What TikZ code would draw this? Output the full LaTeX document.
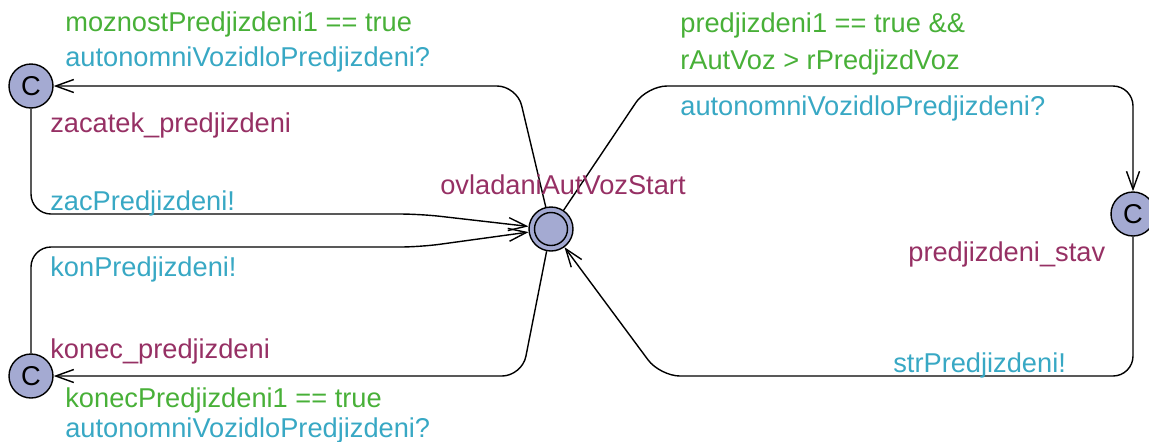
\documentclass[tikz,border=0pt]{standalone}
\usepackage{fontspec}
\setmainfont{Liberation Sans}
\usetikzlibrary{arrows.meta}
\definecolor{guardcol}{RGB}{72,176,56}
\definecolor{synccol}{RGB}{56,168,196}
\definecolor{namecol}{RGB}{150,48,100}
\definecolor{locfill}{RGB}{164,170,210}

\begin{document}
\begin{tikzpicture}[x=0.02cm,y=-0.02cm,
    every node/.style={font=\fontsize{15.5}{18}\selectfont},
    loc/.style={circle,draw,line width=0.8pt,fill=locfill,minimum size=0.88cm,inner sep=0pt},
    trans/.style={line width=0.8pt,rounded corners=0.4cm,-{Straight Barb[length=0.36cm,width=0.26cm]}},
    guard/.style={anchor=base west,inner sep=0pt,text=guardcol},
    sync/.style={anchor=base west,inner sep=0pt,text=synccol},
    locname/.style={anchor=base west,inner sep=0pt,text=namecol}]
  \useasboundingbox (0,0) rectangle (1149,441);

  % locations
  \node[loc] (zacatek) at (31,86) {C};
  \node[loc] (konec) at (31,376) {C};
  \node[loc] (stav) at (1133,214) {C};
  \node[loc] (start) at (551,229) {};
  \node[circle,draw,line width=0.8pt,minimum size=0.66cm] (startin) at (start) {};

  % transitions
  \draw[trans] (start) -- (517,86) -- (zacatek);
  \draw[trans] (zacatek) -- (31,214) -- (420,214) -- (start);
  \draw[trans] (start) -- (522,376) -- (konec);
  \draw[trans] (konec) -- (31,247) -- (420,247) -- (start);
  \draw[trans] (start) -- (647,86) -- (1133,86) -- (stav);
  \draw[trans] (stav) -- (1133,376) -- (660,376) -- (start);

  % names, guards and syncs
  \node[locname] (nstart) at (440,194) {ovladaniAutVozStart};
  \node[locname] (nzacatek) at (50,132) {zacatek\_predjizdeni};
  \node[locname] (nkonec) at (50,358) {konec\_predjizdeni};
  \node[locname] (nstav) at (908,261) {predjizdeni\_stav};

  \node[guard] (gzac) at (65,31) {moznostPredjizdeni1 == true};
  \node[sync] (szac) at (65,66) {autonomniVozidloPredjizdeni?};
  \node[sync] (szacout) at (50,210) {zacPredjizdeni!};
  \node[sync] (skon) at (50,276) {konPredjizdeni!};
  \node[guard] (gkon) at (65,407) {konecPredjizdeni1 == true};
  \node[sync] (skonin) at (65,437) {autonomniVozidloPredjizdeni?};
  \node[guard] (gstav) at (680,32) {predjizdeni1 == true \&\&};
  \node[guard] (gstavb) at (680,69) {rAutVoz > rPredjizdVoz};
  \node[sync] (sstav) at (680,115) {autonomniVozidloPredjizdeni?};
  \node[sync] (sstr) at (893,372) {strPredjizdeni!};
\end{tikzpicture}
\end{document}
